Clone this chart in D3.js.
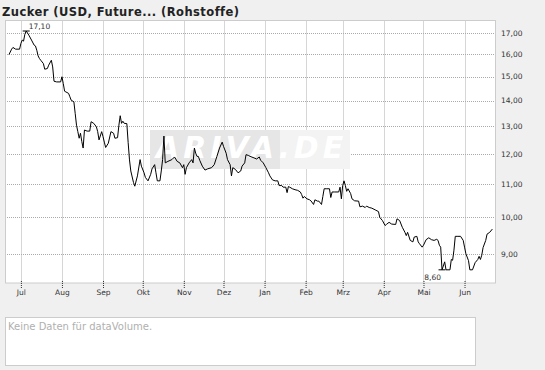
<!DOCTYPE html>
<html>
<head>
<meta charset="utf-8">
<script src="https://cdn.jsdelivr.net/npm/d3@7"></script>
<style>
  html, body { margin: 0; padding: 0; background: #f0f0f0; }
  svg { display: block; }
  text { font-family: "DejaVu Sans", Verdana, sans-serif; }
</style>
</head>
<body>
<svg id="chart" width="545" height="370"></svg>
<script>
const TITLE = "Zucker (USD, Future... (Rohstoffe)";
const NO_VOLUME = "Keine Daten für dataVolume.";

const monthLabels = ["Jul", "Aug", "Sep", "Okt", "Nov", "Dez", "Jan", "Feb", "Mrz", "Apr", "Mai", "Jun"];
const monthStarts = ["2006-07-01", "2006-08-01", "2006-09-01", "2006-10-01", "2006-11-01", "2006-12-01",
  "2007-01-01", "2007-02-01", "2007-03-01", "2007-04-01", "2007-05-01", "2007-06-01"];
const priceTicks = [9, 10, 11, 12, 13, 14, 15, 16, 17];

// Schlusskurse
const tradeDates = [
  "2006-06-22", "2006-06-24", "2006-06-25", "2006-06-27", "2006-06-30",
  "2006-07-01", "2006-07-02", "2006-07-03", "2006-07-04", "2006-07-05", "2006-07-07", "2006-07-09", "2006-07-11",
  "2006-07-12", "2006-07-13", "2006-07-14", "2006-07-15", "2006-07-16", "2006-07-18", "2006-07-19", "2006-07-21",
  "2006-07-22", "2006-07-24", "2006-07-25", "2006-07-26", "2006-07-28", "2006-07-31",
  "2006-08-01", "2006-08-02", "2006-08-03", "2006-08-04", "2006-08-06", "2006-08-07", "2006-08-08", "2006-08-10",
  "2006-08-11", "2006-08-12", "2006-08-13", "2006-08-14", "2006-08-15", "2006-08-16", "2006-08-17", "2006-08-18",
  "2006-08-20", "2006-08-22", "2006-08-23", "2006-08-25", "2006-08-27", "2006-08-28", "2006-08-29", "2006-08-31",
  "2006-09-01", "2006-09-02", "2006-09-03", "2006-09-05", "2006-09-07", "2006-09-09", "2006-09-10", "2006-09-12",
  "2006-09-13", "2006-09-14", "2006-09-15", "2006-09-16", "2006-09-17", "2006-09-19", "2006-09-20", "2006-09-21",
  "2006-09-22", "2006-09-24", "2006-09-25", "2006-09-27", "2006-09-29", "2006-09-30",
  "2006-10-02", "2006-10-03", "2006-10-05", "2006-10-07", "2006-10-08", "2006-10-10", "2006-10-11", "2006-10-12",
  "2006-10-14", "2006-10-15", "2006-10-16", "2006-10-17", "2006-10-18", "2006-10-20", "2006-10-23", "2006-10-25",
  "2006-10-27", "2006-10-29", "2006-10-31",
  "2006-11-01", "2006-11-02", "2006-11-03", "2006-11-05", "2006-11-07", "2006-11-08", "2006-11-09", "2006-11-10",
  "2006-11-11", "2006-11-12", "2006-11-13", "2006-11-15", "2006-11-17", "2006-11-19", "2006-11-22", "2006-11-24",
  "2006-11-26", "2006-11-28", "2006-11-30",
  "2006-12-01", "2006-12-03", "2006-12-04", "2006-12-06", "2006-12-07", "2006-12-08", "2006-12-10", "2006-12-12",
  "2006-12-14", "2006-12-15", "2006-12-17", "2006-12-18", "2006-12-20", "2006-12-21", "2006-12-24", "2006-12-26",
  "2006-12-28", "2006-12-29", "2006-12-31",
  "2007-01-02", "2007-01-04", "2007-01-05", "2007-01-07", "2007-01-09", "2007-01-11", "2007-01-12", "2007-01-14",
  "2007-01-15", "2007-01-17", "2007-01-18", "2007-01-19", "2007-01-20", "2007-01-22", "2007-01-24", "2007-01-26",
  "2007-01-28", "2007-01-29", "2007-01-30", "2007-01-31",
  "2007-02-02", "2007-02-04", "2007-02-05", "2007-02-07", "2007-02-08", "2007-02-10", "2007-02-11", "2007-02-13",
  "2007-02-14", "2007-02-15", "2007-02-17", "2007-02-19", "2007-02-20", "2007-02-21", "2007-02-23", "2007-02-26",
  "2007-02-27", "2007-02-28",
  "2007-03-01", "2007-03-02", "2007-03-03", "2007-03-04", "2007-03-05", "2007-03-07", "2007-03-08", "2007-03-10",
  "2007-03-13", "2007-03-14", "2007-03-16", "2007-03-18", "2007-03-19", "2007-03-21", "2007-03-23", "2007-03-26",
  "2007-03-28", "2007-03-29", "2007-03-31",
  "2007-04-02", "2007-04-03", "2007-04-05", "2007-04-07", "2007-04-10", "2007-04-11", "2007-04-13", "2007-04-15",
  "2007-04-17", "2007-04-18", "2007-04-19", "2007-04-21", "2007-04-23", "2007-04-24", "2007-04-26", "2007-04-27",
  "2007-04-28", "2007-04-30",
  "2007-05-01", "2007-05-03", "2007-05-05", "2007-05-07", "2007-05-09", "2007-05-11", "2007-05-12", "2007-05-13",
  "2007-05-14", "2007-05-15", "2007-05-17", "2007-05-18", "2007-05-21", "2007-05-22", "2007-05-23", "2007-05-24",
  "2007-05-25", "2007-05-27", "2007-05-29", "2007-05-31",
  "2007-06-01", "2007-06-02", "2007-06-04", "2007-06-05", "2007-06-07", "2007-06-09", "2007-06-11", "2007-06-12",
  "2007-06-13", "2007-06-14", "2007-06-15", "2007-06-17", "2007-06-18", "2007-06-20", "2007-06-22"
];
const closePrices = [
  15.98, 16.23, 16.31, 16.23, 16.23,
  16.50, 16.66, 16.61, 16.94, 17.10, 16.90, 16.66, 16.42,
  16.38, 16.18, 15.92, 15.80, 15.72, 15.57, 15.32, 15.35,
  15.50, 15.72, 15.42, 14.80, 14.77, 14.77,
  14.99, 14.70, 14.38, 14.35, 14.29, 14.15, 14.01, 13.95,
  13.49, 13.04, 12.80, 12.56, 12.74, 12.44, 12.21, 12.86,
  12.82, 12.82, 13.17, 13.11, 12.98, 12.80, 12.50, 12.80,
  12.62, 12.42, 12.23, 12.38, 12.80, 12.74, 12.56, 12.58,
  13.04, 13.40, 13.11, 13.19, 13.11, 13.10, 12.40, 11.80,
  11.43, 11.06, 10.94, 11.27, 11.81, 11.59,
  11.37, 11.22, 11.11, 11.32, 11.50, 11.64, 11.37, 11.11,
  11.11, 11.43, 11.81, 12.64, 11.70, 11.75, 11.81, 11.90,
  11.75, 11.70, 11.54,
  11.64, 11.32, 11.54, 11.70, 11.81, 11.70, 12.21, 12.03,
  11.92, 11.92, 11.79, 11.59, 11.46, 11.50, 11.54, 11.64,
  11.92, 12.21, 12.42,
  12.27, 12.03, 11.81, 11.64, 11.27, 11.54, 11.48, 11.37,
  11.43, 11.59, 11.70, 11.98, 11.95, 11.92, 11.87, 11.83,
  11.90, 11.79, 11.70,
  11.54, 11.37, 11.27, 11.14, 11.11, 11.11, 10.96, 10.96,
  10.91, 10.91, 10.74, 10.93, 10.91, 10.86, 10.83, 10.81,
  10.76, 10.68, 10.57, 10.62,
  10.55, 10.52, 10.49, 10.38, 10.52, 10.48, 10.48, 10.38,
  10.62, 10.86, 10.86, 10.86, 10.59, 10.76, 10.76, 10.76,
  10.91, 10.55,
  10.96, 11.11, 10.96, 10.78, 10.86, 10.71, 10.55, 10.49,
  10.48, 10.31, 10.33, 10.29, 10.33, 10.29, 10.27, 10.21,
  10.17, 10.00, 9.91,
  9.77, 9.80, 9.86, 9.81, 9.80, 9.96, 9.91, 9.72,
  9.58, 9.49, 9.58, 9.36, 9.32, 9.45, 9.47, 9.32,
  9.27, 9.18,
  9.23, 9.38, 9.43, 9.38, 9.36, 9.39, 9.36, 9.23,
  9.18, 8.60, 8.80, 8.60, 8.60, 8.86, 8.84, 9.10,
  9.47, 9.47, 9.47, 9.36,
  9.18, 9.01, 8.83, 8.60, 8.60, 8.78, 8.86, 8.94,
  8.86, 8.97, 9.17, 9.36, 9.53, 9.58, 9.67
];

const parseDate = d3.timeParse("%Y-%m-%d");
const de = d3.formatLocale({ decimal: ",", thousands: ".", grouping: [3], currency: ["", " €"] });
const fmt = de.format(".2f");

const plot = { left: 5, right: 495, top: 21, bottom: 283 };

const svg = d3.select("#chart");

const x = d3
  .scaleTime()
  .domain([parseDate("2006-06-19"), parseDate("2007-06-24")])
  .range([plot.left, plot.right]);

const y = d3.scaleLog().domain([8.28, 17.6]).range([plot.bottom, plot.top]);

const data = tradeDates.map((d, i) => ({ date: parseDate(d), price: closePrices[i] }));

// Titel
svg
  .append("text")
  .attr("x", 2)
  .attr("y", 16)
  .attr("font-size", 11.5)
  .attr("font-weight", "bold")
  .attr("letter-spacing", 0.45)
  .attr("fill", "#222")
  .text(TITLE);

// Chartfläche
svg
  .append("rect")
  .attr("x", plot.left)
  .attr("y", plot.top)
  .attr("width", plot.right - plot.left)
  .attr("height", plot.bottom - plot.top)
  .attr("fill", "#fff");

// Gitterlinien
const gGrid = svg.append("g").attr("shape-rendering", "crispEdges");
gGrid
  .selectAll("line.v")
  .data(monthStarts.map(parseDate))
  .join("line")
  .attr("class", "v")
  .attr("x1", (d) => Math.round(x(d)) + 0.5)
  .attr("x2", (d) => Math.round(x(d)) + 0.5)
  .attr("y1", plot.top)
  .attr("y2", plot.bottom)
  .attr("stroke", "#d6d6d6");
gGrid
  .selectAll("line.h")
  .data(priceTicks)
  .join("line")
  .attr("class", "h")
  .attr("x1", plot.left)
  .attr("x2", plot.right)
  .attr("y1", (d) => Math.round(y(d)) + 0.5)
  .attr("y2", (d) => Math.round(y(d)) + 0.5)
  .attr("stroke", "#aaa")
  .attr("stroke-dasharray", "1,1");

// Wasserzeichen
const gMark = svg.append("g");
gMark.append("rect").attr("x", 150).attr("y", 130).attr("width", 130).attr("height", 39).attr("fill", "#e6e6e6");
gMark.append("rect").attr("x", 280).attr("y", 130).attr("width", 70).attr("height", 39).attr("fill", "#f3f3f3");
gMark
  .append("text")
  .attr("x", 156)
  .attr("y", 158)
  .attr("font-size", 30)
  .attr("font-weight", "bold")
  .attr("font-style", "italic")
  .attr("letter-spacing", 4)
  .attr("fill", "#fff")
  .text("ARIVA.DE");

// Kurslinie
svg
  .append("path")
  .datum(data)
  .attr("fill", "none")
  .attr("stroke", "#000")
  .attr("stroke-width", 1)
  .attr(
    "d",
    d3
      .line()
      .x((d) => x(d.date))
      .y((d) => y(d.price))
  );

// Rahmen
svg
  .append("rect")
  .attr("x", plot.left + 0.5)
  .attr("y", plot.top - 0.5)
  .attr("width", plot.right - plot.left)
  .attr("height", plot.bottom - plot.top + 0.5)
  .attr("fill", "none")
  .attr("stroke", "#ccc");

// Achsen
const gX = svg
  .append("g")
  .attr("transform", `translate(0,${plot.bottom})`)
  .call(
    d3
      .axisBottom(x)
      .tickValues(monthStarts.map(parseDate))
      .tickFormat((d, i) => monthLabels[i])
      .tickSize(5)
      .tickPadding(2)
  );
gX.select(".domain").remove();
gX.selectAll(".tick line").attr("y1", -2).attr("stroke", "#333").attr("stroke-dasharray", "1,1");
gX.selectAll(".tick text").attr("font-family", null).attr("font-size", 7.5).attr("fill", "#333");

const gY = svg
  .append("g")
  .attr("transform", `translate(${plot.right},0)`)
  .call(d3.axisRight(y).tickValues(priceTicks).tickFormat(fmt).tickSize(0).tickPadding(6));
gY.select(".domain").remove();
gY.selectAll(".tick text").attr("font-family", null).attr("font-size", 7.5).attr("fill", "#333");

// Hoch / Tief
const iMax = d3.maxIndex(data, (d) => d.price);
const iMin = d3.minIndex(data, (d) => d.price);
const hi = data[iMax];
const lo = data[iMin];
[hi, lo].forEach((d) => {
  svg
    .append("line")
    .attr("x1", x(d.date) - 3.5)
    .attr("x2", x(d.date) + 3.5)
    .attr("y1", y(d.price))
    .attr("y2", y(d.price))
    .attr("stroke", "#000");
});
svg
  .append("text")
  .attr("x", x(hi.date) + 2.5)
  .attr("y", y(hi.price) - 2)
  .attr("font-size", 7.5)
  .attr("fill", "#333")
  .text(fmt(hi.price));
svg
  .append("text")
  .attr("x", x(lo.date) - 1)
  .attr("y", y(lo.price) + 10)
  .attr("text-anchor", "end")
  .attr("font-size", 7.5)
  .attr("fill", "#333")
  .text(fmt(lo.price));

// Volumen-Box
svg
  .append("rect")
  .attr("x", 5.5)
  .attr("y", 317.5)
  .attr("width", 470)
  .attr("height", 48)
  .attr("fill", "#fff")
  .attr("stroke", "#ccc");
svg
  .append("text")
  .attr("x", 8)
  .attr("y", 329.5)
  .attr("font-size", 10)
  .attr("fill", "#b0b0b0")
  .text(NO_VOLUME);
</script>
</body>
</html>
